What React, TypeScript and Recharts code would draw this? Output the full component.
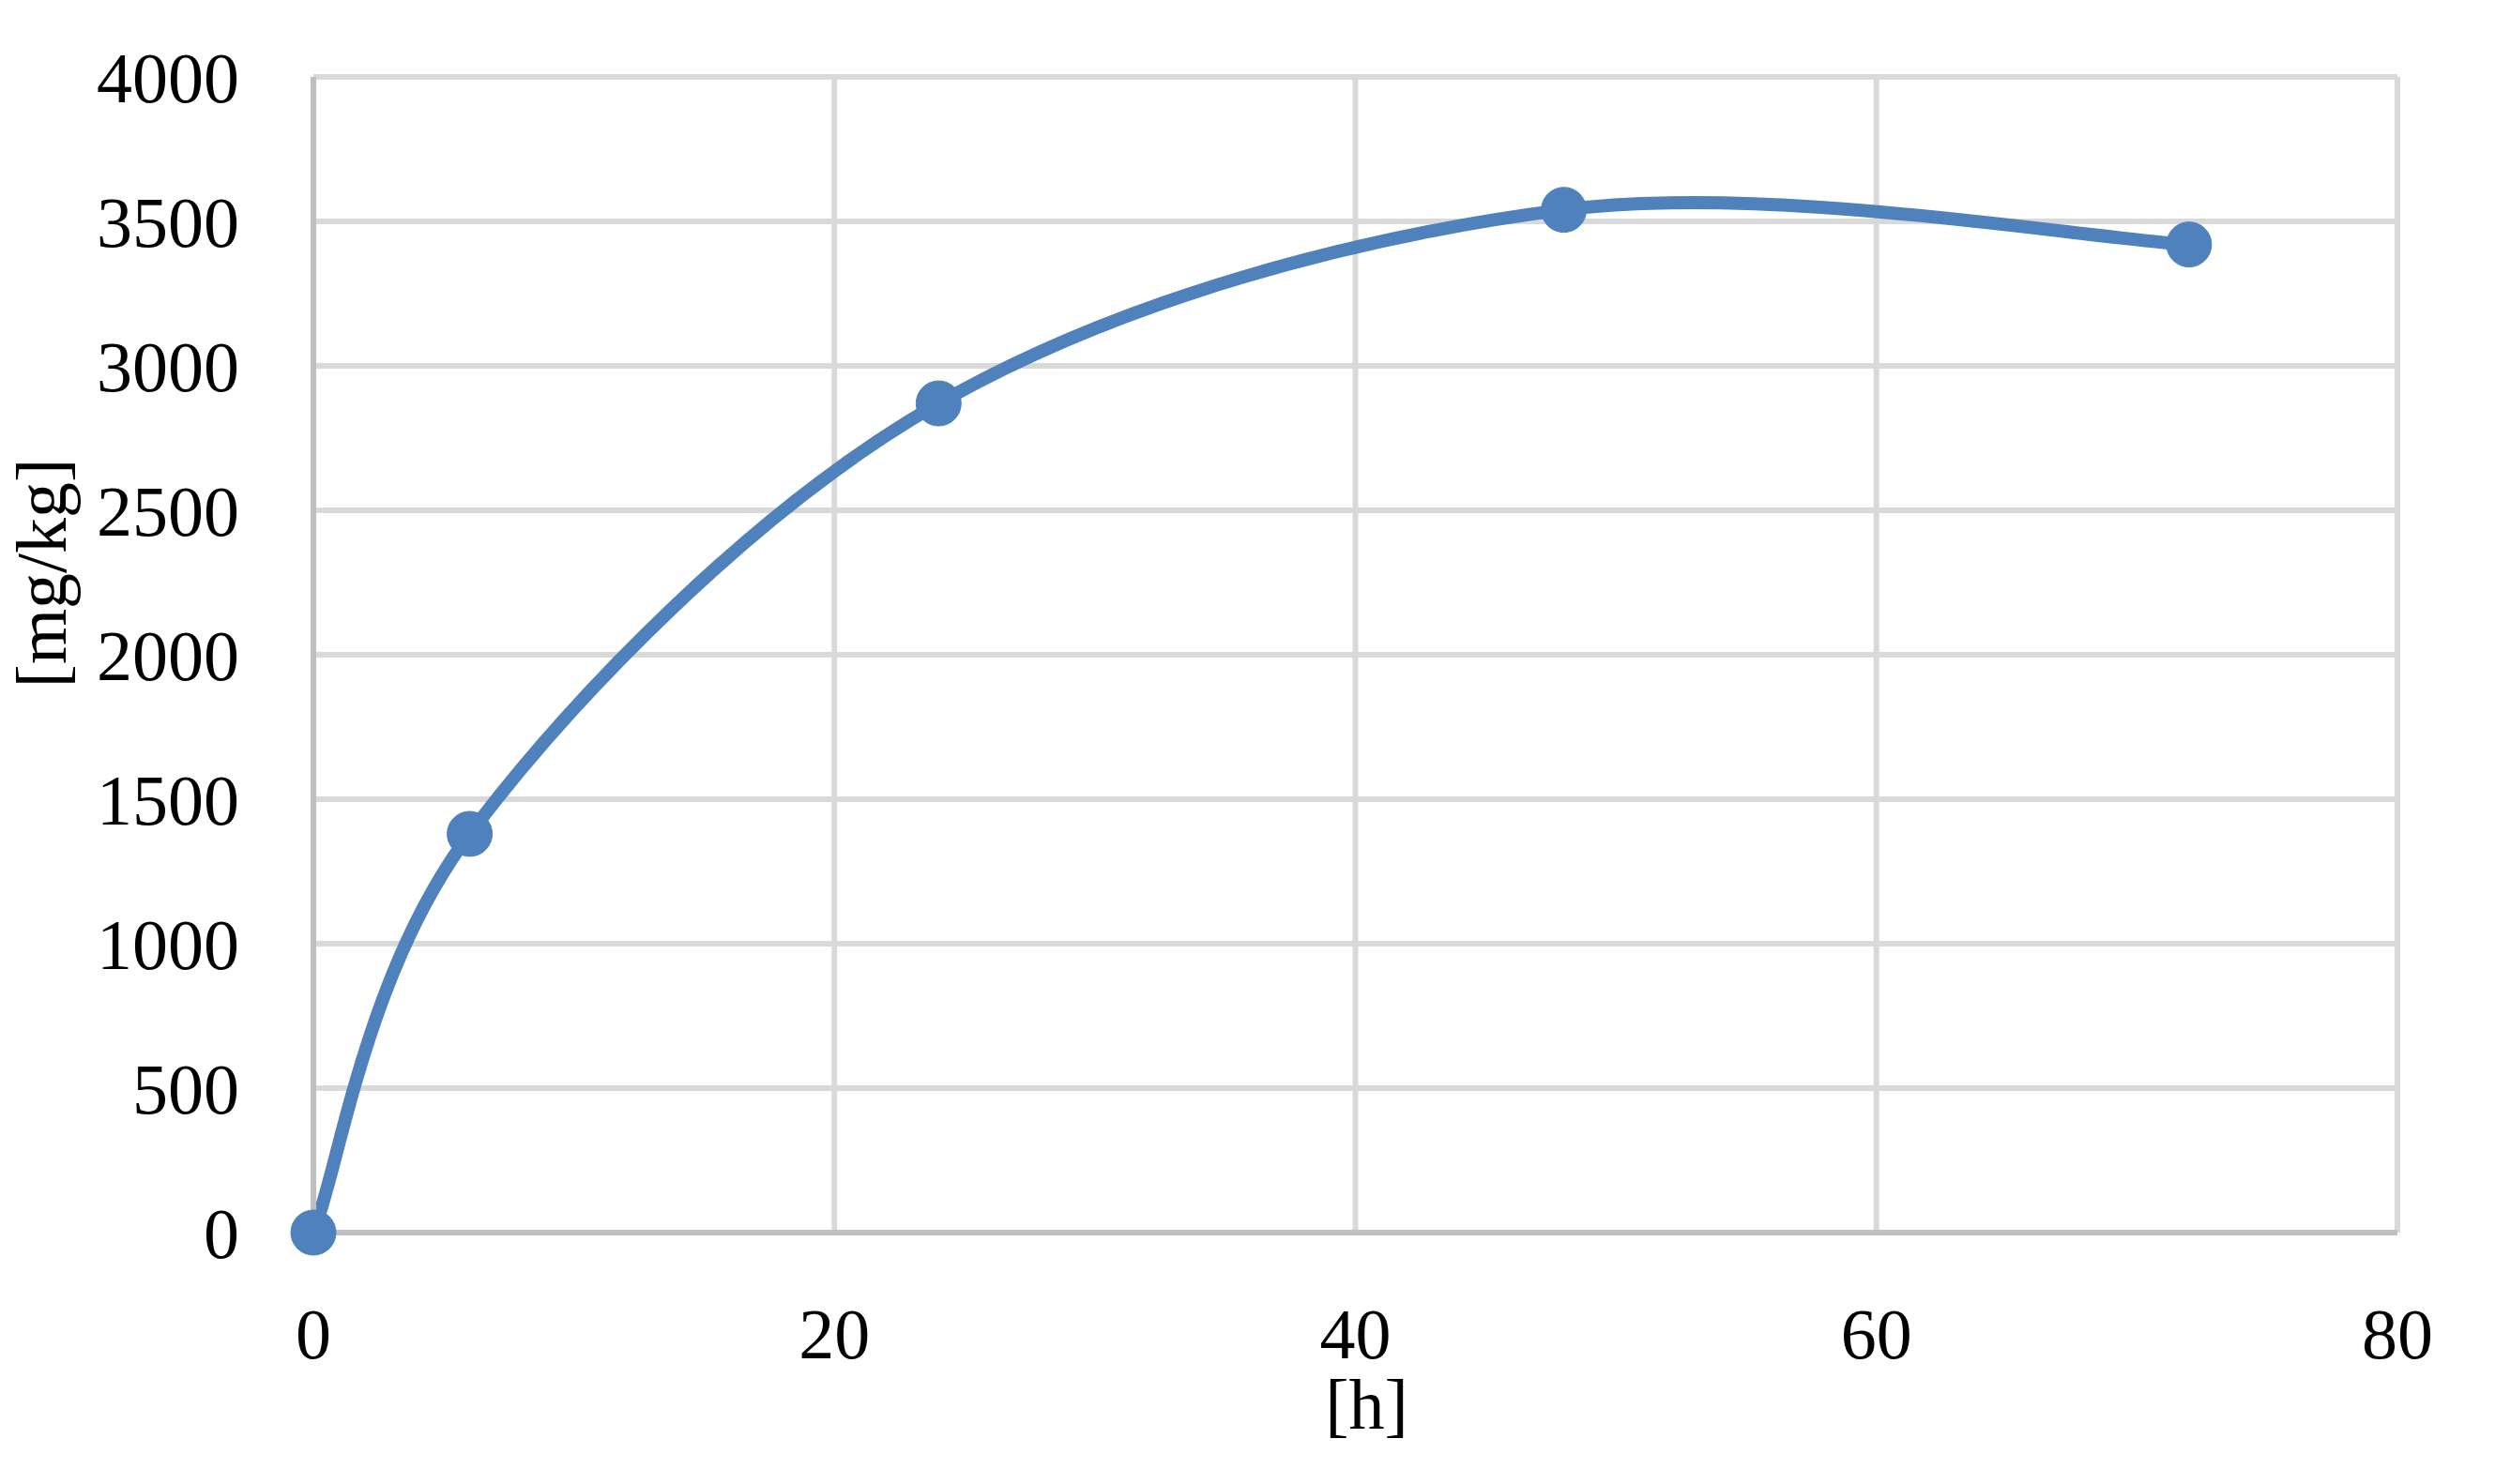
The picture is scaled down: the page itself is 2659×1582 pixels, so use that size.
import React from 'react';
import { LineChart, Line, XAxis, YAxis, CartesianGrid, Label } from 'recharts';

const hours = [0, 6, 24, 48, 72];
const concentration = [0, 1380, 2870, 3540, 3420];
const xTicks = [0, 20, 40, 60, 80];
const yTicks = [0, 500, 1000, 1500, 2000, 2500, 3000, 3500, 4000];

const data = hours.map((h, i) => ({ h, v: concentration[i] }));

const FONT = '"Liberation Serif", "Times New Roman", serif';
const FS = 76;

// Excel-like smoothed line (cubic Bezier, tangents from neighbours / 6)
function excelSmooth(context: any) {
  let pts: number[][] = [];
  return {
    areaStart() {},
    areaEnd() {},
    lineStart() {
      pts = [];
    },
    point(x: number, y: number) {
      pts.push([+x, +y]);
    },
    lineEnd() {
      const n = pts.length;
      if (!n) return;
      context.moveTo(pts[0][0], pts[0][1]);
      if (n === 1) return;
      for (let i = 0; i < n - 1; i++) {
        const p0 = pts[Math.max(i - 1, 0)];
        const p1 = pts[i];
        const p2 = pts[i + 1];
        const p3 = pts[Math.min(i + 2, n - 1)];
        const c1x = p1[0] + (p2[0] - p0[0]) / 6;
        const c1y = p1[1] + (p2[1] - p0[1]) / 6;
        const c2x = p2[0] - (p3[0] - p1[0]) / 6;
        const c2y = p2[1] - (p3[1] - p1[1]) / 6;
        context.bezierCurveTo(c1x, c1y, c2x, c2y, p2[0], p2[1]);
      }
    },
  };
}

const XLabel = (props: any) => {
  const vb = props.viewBox || {};
  return (
    <text
      x={vb.x + vb.width / 2 + 12}
      y={vb.y + 209}
      textAnchor="middle"
      fontFamily={FONT}
      fontSize={FS}
      fill="#000"
    >
      [h]
    </text>
  );
};

const YLabel = (props: any) => {
  const vb = props.viewBox || {};
  const cx = 70;
  const cy = vb.y + 529;
  return (
    <text
      x={cx}
      y={cy}
      transform={`rotate(-90, ${cx}, ${cy})`}
      textAnchor="middle"
      fontFamily={FONT}
      fontSize={FS}
      fill="#000"
    >
      [mg/kg]
    </text>
  );
};

export default function App() {
  return (
    <div style={{ position: 'absolute', left: 0, top: 0, width: 2659, height: 1582, background: '#fff' }}>
      <LineChart
        width={2659}
        height={1582}
        data={data}
        margin={{ top: 82, right: 104, left: 0, bottom: 0 }}
      >
        <CartesianGrid stroke="#D9D9D9" strokeWidth={6} horizontal vertical />
        <XAxis
          type="number"
          dataKey="h"
          domain={[0, 80]}
          ticks={xTicks}
          interval={0}
          height={268}
          axisLine={{ stroke: '#BFBFBF', strokeWidth: 6 }}
          tickLine={false}
          tickSize={0}
          tickMargin={80}
          tick={{ fill: '#000', fontSize: FS, fontFamily: FONT }}
        >
          <Label content={<XLabel />} />
        </XAxis>
        <YAxis
          type="number"
          domain={[0, 4000]}
          ticks={yTicks}
          interval={0}
          width={334}
          axisLine={{ stroke: '#BFBFBF', strokeWidth: 6 }}
          tickLine={false}
          tickSize={0}
          tickMargin={79}
          tick={{ fill: '#000', fontSize: FS, fontFamily: FONT }}
        >
          <Label content={<YLabel />} />
        </YAxis>
        <Line
          dataKey="v"
          type={excelSmooth as any}
          stroke="#4F81BD"
          strokeWidth={14}
          dot={{ r: 24, fill: '#4F81BD', stroke: '#4F81BD', strokeWidth: 1 }}
          activeDot={false}
          isAnimationActive={false}
        />
      </LineChart>
    </div>
  );
}
